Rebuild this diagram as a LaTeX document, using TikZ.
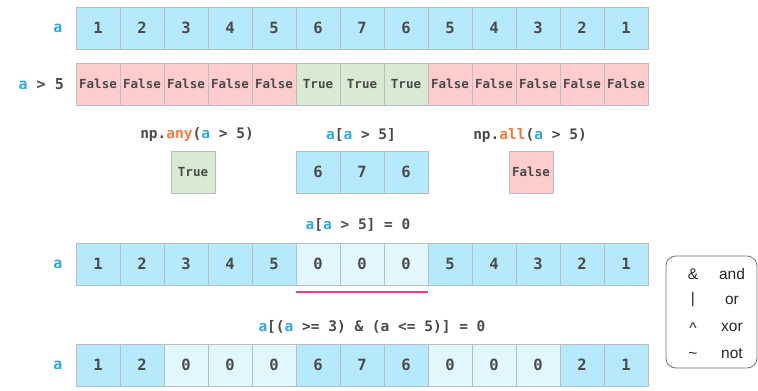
\documentclass[tikz,border=0pt]{standalone}
\usepackage{fontspec}
\newfontfamily\mono{DejaVu Sans Mono}
\newfontfamily\legsans{Liberation Sans}
\definecolor{cellblue}{HTML}{B5E9FB}
\definecolor{celllight}{HTML}{E2F6FD}
\definecolor{cellpink}{HTML}{FDCDCD}
\definecolor{cellgreen}{HTML}{D9EAD3}
\definecolor{cellborder}{HTML}{B8BEC2}
\definecolor{txt}{HTML}{4A4A4A}
\definecolor{ablue}{HTML}{2EA9E3}
\definecolor{fnorange}{HTML}{F47A3C}
\definecolor{pinkline}{HTML}{E8407A}
\tikzset{
  cell/.style={draw=cellborder, line width=0.9pt, minimum width=44pt, minimum height=42pt, inner sep=0pt, text=txt, font=\mono\bfseries\fontsize{15.5}{17}\selectfont},
  boolcell/.style={cell, font=\mono\bfseries\fontsize{12.5}{14}\selectfont},
  rowlabel/.style={text=txt, font=\mono\bfseries\fontsize{15}{17}\selectfont, inner sep=0pt},
  exprlabel/.style={text=txt, font=\mono\bfseries\fontsize{14.5}{16}\selectfont, inner sep=0pt},
  legtext/.style={text=black!85, font=\legsans\fontsize{15.5}{17}\selectfont, inner sep=0pt},
  underline/.style={draw=pinkline, line width=1.6pt},
}
\newcommand{\av}{\textcolor{ablue}{a}}
\begin{document}
\begin{tikzpicture}[x=1pt,y=-1pt]
\useasboundingbox (0,0) rectangle (758,391);
% row 1
\node[rowlabel, anchor=center] (l1) at (58,28) {\av};
\foreach \v [count=\i] in {1,2,3,4,5,6,7,6,5,4,3,2,1}
  \node[cell, fill=cellblue] (r1c\i) at ({98+44*(\i-1)},28) {\v};
% row 2
\node[rowlabel, anchor=east] (l2) at (64,84) {\av{} > 5};
\foreach \v/\c [count=\i] in {False/cellpink,False/cellpink,False/cellpink,False/cellpink,False/cellpink,True/cellgreen,True/cellgreen,True/cellgreen,False/cellpink,False/cellpink,False/cellpink,False/cellpink,False/cellpink}
  \node[boolcell, fill=\c] (r2c\i) at ({98+44*(\i-1)},84) {\v};
% row 3
\node[exprlabel] (e1) at (197,135) {np.\textcolor{fnorange}{any}(\av{} > 5)};
\node[boolcell, fill=cellgreen] (any) at (193,172) {True};
\node[exprlabel] (e2) at (361,135) {\av[\av{} > 5]};
\foreach \v [count=\i] in {6,7,6}
  \node[cell, fill=cellblue] (r3c\i) at ({318+44*(\i-1)},172) {\v};
\node[exprlabel] (e3) at (530,135) {np.\textcolor{fnorange}{all}(\av{} > 5)};
\node[boolcell, fill=cellpink] (all) at (531,172) {False};
% row 4
\node[exprlabel] (e4) at (358,225) {\av[\av{} > 5] = 0};
\node[rowlabel] (l4) at (58,264) {\av};
\foreach \v/\c [count=\i] in {1/cellblue,2/cellblue,3/cellblue,4/cellblue,5/cellblue,0/celllight,0/celllight,0/celllight,5/cellblue,4/cellblue,3/cellblue,2/cellblue,1/cellblue}
  \node[cell, fill=\c] (r4c\i) at ({98+44*(\i-1)},264) {\v};
\draw[underline] ([yshift=-6.5pt]r4c6.south west) -- ([yshift=-6.5pt]r4c8.south east);
% row 5
\node[exprlabel] (e5) at (372,327) {\av[(\av{} >= 3) \& (a <= 5)] = 0};
\node[rowlabel] (l5) at (58,365) {\av};
\foreach \v/\c [count=\i] in {1/cellblue,2/cellblue,0/celllight,0/celllight,0/celllight,6/cellblue,7/cellblue,6/cellblue,0/celllight,0/celllight,0/celllight,2/cellblue,1/cellblue}
  \node[cell, fill=\c] (r5c\i) at ({98+44*(\i-1)},365) {\v};
% legend
\node[draw=black!55, line width=0.8pt, rounded corners=10pt, minimum width=91pt, minimum height=112pt, inner sep=0pt] (legend) at (711.5,312) {};
\node[legtext] (k1) at (693,274) {\&};
\node[legtext] (d1) at (732,274) {and};
\node[legtext] (k2) at (693,300) {|};
\node[legtext] (d2) at (732,300) {or};
\node[legtext] (k3) at (693,328) {\textasciicircum};
\node[legtext] (d3) at (732,327) {xor};
\node[legtext] (k4) at (693,355) {\textasciitilde};
\node[legtext] (d4) at (732,354) {not};
\end{tikzpicture}
\end{document}
